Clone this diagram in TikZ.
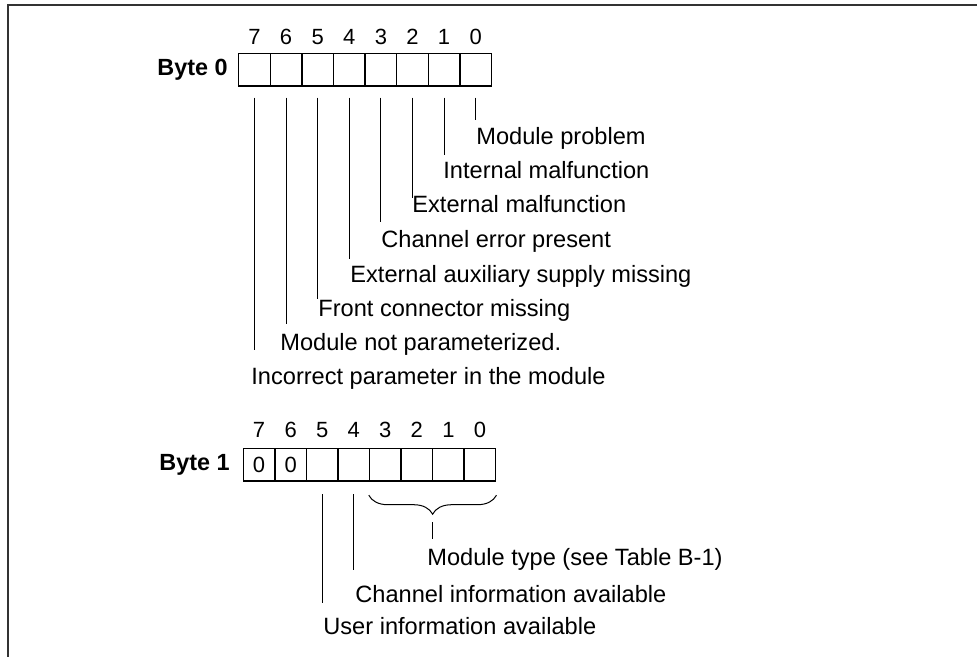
\documentclass[tikz,border=0pt]{standalone}
\usepackage{fontspec}
\setmainfont{Liberation Sans}
\usetikzlibrary{decorations.pathreplacing}
\tikzset{
  bitcell/.style={draw, line width=0.7pt, minimum width=15.8pt, minimum height=16.2pt, inner sep=0pt},
  bitnum/.style={font=\fontsize{11}{13}\selectfont, inner sep=0pt, anchor=base},
  bytename/.style={font=\fontsize{11.7}{13}\selectfont\bfseries, inner sep=0pt, anchor=east},
  desc/.style={font=\fontsize{11.8}{13}\selectfont, inner sep=0pt, anchor=base west},
  leader/.style={line width=0.5pt}
}
\begin{document}
\begin{tikzpicture}[x=0.5pt, y=-0.5pt]
  \useasboundingbox (0,0) rectangle (977,657);
  % frame
  \draw[line width=0.8pt, black!80] (977,5) -- (8,5) -- (8,657);

  % Byte 0 - eight cells with bit numbers
  \node[bytename] (byte0) at (228,70) {Byte 0};
  \foreach \b [count=\i from 0] in {7,6,...,0} {
    \node[bitcell] (a\b) at (254.5+31.6*\i, 69.7) {};
    \node[bitnum] (n\b) at (254.5+31.6*\i, 45) {\b};
  }

  % Byte 0 - leaders and meanings
  \foreach \b/\yend/\xt/\yt/\txt in {
      0/120/476/145/Module problem,
      1/155/443/179/Internal malfunction,
      2/198/412/213/External malfunction,
      3/222/381/248/Channel error present,
      4/259/350/282/External auxiliary supply missing,
      5/299/318/316/Front connector missing,
      6/324/280/350/Module not parameterized.,
      7/350/251/384/Incorrect parameter in the module} {
    \node[desc] (t\b) at (\xt,\yt) {\txt};
    \coordinate (e\b) at (a\b.south |- 0,\yend);
    \draw[leader] ([yshift=-5.5pt]a\b.south) -- (e\b);
  }

  % Byte 1
  \node[bytename] (byte1) at (230,465) {Byte 1};
  \foreach \b [count=\i from 0] in {7,6,...,0} {
    \node[bitcell] (c\b) at (259.1+31.55*\i, 464.9) {};
    \node[bitnum] (m\b) at (259.1+31.55*\i, 437) {\b};
  }
  \node[bitnum, anchor=center] (z7) at (c7) {0};
  \node[bitnum, anchor=center] (z6) at (c6) {0};

  % Byte 1 - module type brace
  \draw[leader, decorate, decoration={brace, mirror, amplitude=9.5pt}]
    ([yshift=-6.7pt]c3.south west) -- ([yshift=-6.7pt]c0.south east);
  \node[desc] (u0) at (427,565) {Module type (see Table B-1)};
  \coordinate (btop) at (432,522);
  \coordinate (bbot) at (432,539);
  \draw[leader] (btop) -- (bbot);

  % Byte 1 - bits 4 and 5
  \node[desc] (u4) at (355,602) {Channel information available};
  \node[desc] (u5) at (323,634) {User information available};
  \coordinate (f4) at (c4.south |- 0,570);
  \coordinate (f5) at (c5.south |- 0,603);
  \draw[leader] ([yshift=-6.2pt]c4.south) -- (f4);
  \draw[leader] ([yshift=-6.2pt]c5.south) -- (f5);
\end{tikzpicture}
\end{document}
